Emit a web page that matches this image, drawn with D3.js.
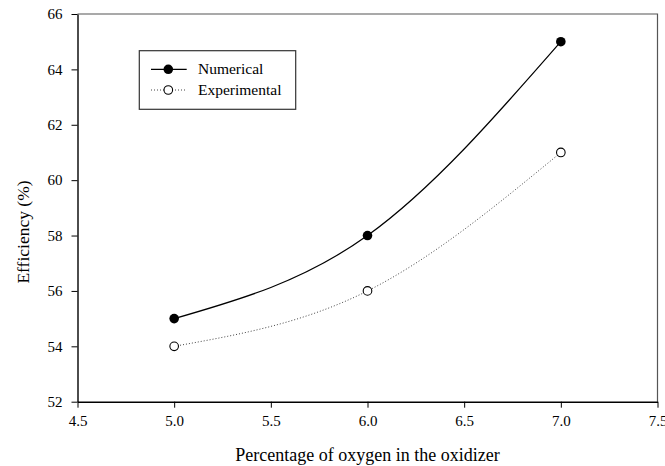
<!DOCTYPE html>
<html>
<head>
<meta charset="utf-8">
<script src="https://cdn.jsdelivr.net/npm/d3@7"></script>
<style>
  body { margin: 0; background: #fff; }
  svg text { fill: #000; }
</style>
</head>
<body>
<div id="chart"></div>
<script>
// data
var oxygen = [5.0, 6.0, 7.0];
var numerical = [55, 58, 65];
var experimental = [54, 56, 61];
var xTicks = [4.5, 5.0, 5.5, 6.0, 6.5, 7.0, 7.5];
var yTicks = [52, 54, 56, 58, 60, 62, 64, 66];

var serif = "'Liberation Serif', 'Times New Roman', Times, serif";

var margin = {top: 14, right: 7.5, bottom: 64.3, left: 77.5},
    W = 665, H = 466,
    width = W - margin.left - margin.right,
    height = H - margin.top - margin.bottom;

var svg = d3.select("#chart")
  .append("svg")
    .attr("width", W)
    .attr("height", H)
    .attr("font-family", serif)
  .append("g")
    .attr("transform", "translate(" + margin.left + "," + margin.top + ")");

var x = d3.scaleLinear().domain([4.5, 7.5]).range([0, width]);
var y = d3.scaleLinear().domain([52, 66]).range([height, 0]);

// frame (top/right grey)
svg.append("path")
  .attr("d", "M0,0H" + width + "V" + height)
  .attr("fill", "none")
  .attr("stroke", "#555")
  .attr("stroke-width", 1.2);

// x axis
var xAxis = svg.append("g")
  .attr("transform", "translate(0," + height + ")")
  .call(d3.axisBottom(x).tickValues(xTicks).tickFormat(d3.format(".1f")).tickSizeInner(6).tickSizeOuter(0).tickPadding(8));
xAxis.attr("font-family", serif).attr("font-size", 15);
xAxis.select(".domain").attr("stroke", "#000").attr("stroke-width", 1.4);

// y axis
var yAxis = svg.append("g")
  .call(d3.axisLeft(y).tickValues(yTicks).tickFormat(d3.format("d")).tickSizeInner(6).tickSizeOuter(0).tickPadding(9));
yAxis.attr("font-family", serif).attr("font-size", 15);
yAxis.select(".domain").attr("stroke", "#000").attr("stroke-width", 1.4);

// axis titles
svg.append("text")
  .attr("x", width / 2)
  .attr("y", height + 59.3)
  .attr("text-anchor", "middle")
  .attr("font-size", 18)
  .text("Percentage of oxygen in the oxidizer");

svg.append("text")
  .attr("transform", "translate(" + (-48.5) + "," + (218) + ") rotate(-90)")
  .attr("text-anchor", "middle")
  .attr("font-size", 17.5)
  .text("Efficiency (%)");

var line = d3.line()
  .x(function(d) { return x(d[0]); })
  .y(function(d) { return y(d[1]); })
  .curve(d3.curveNatural);

var numPts = oxygen.map(function(o, i) { return [o, numerical[i]]; });
var expPts = oxygen.map(function(o, i) { return [o, experimental[i]]; });

svg.append("path")
  .datum(expPts)
  .attr("d", line)
  .attr("fill", "none")
  .attr("stroke", "#444")
  .attr("stroke-width", 1)
  .attr("stroke-dasharray", "1,2");

svg.append("path")
  .datum(numPts)
  .attr("d", line)
  .attr("fill", "none")
  .attr("stroke", "#000")
  .attr("stroke-width", 1.2);

svg.selectAll(".dot-num")
  .data(numPts)
  .enter()
  .append("circle")
    .attr("class", "dot-num")
    .attr("cx", function(d) { return x(d[0]); })
    .attr("cy", function(d) { return y(d[1]); })
    .attr("r", 4.8)
    .attr("fill", "#000");

svg.selectAll(".dot-exp")
  .data(expPts)
  .enter()
  .append("circle")
    .attr("class", "dot-exp")
    .attr("cx", function(d) { return x(d[0]); })
    .attr("cy", function(d) { return y(d[1]); })
    .attr("r", 4.3)
    .attr("fill", "#fff")
    .attr("stroke", "#000")
    .attr("stroke-width", 1.1);

// legend
var lg = svg.append("g").attr("transform", "translate(" + (139.3 - margin.left) + "," + (50.7 - margin.top) + ")");
lg.append("rect")
  .attr("width", 156.4)
  .attr("height", 58.6)
  .attr("fill", "#fff")
  .attr("stroke", "#333")
  .attr("stroke-width", 1.2);

var items = [
  {name: "Numerical", fill: "#000", dash: null, w: 1.2, r: 4.8},
  {name: "Experimental", fill: "#fff", dash: "1,2", w: 1, r: 4.3}
];
items.forEach(function(it, i) {
  var yy = 18.6 + i * 20.7;
  lg.append("line")
    .attr("x1", 11.7).attr("x2", 47.4)
    .attr("y1", yy).attr("y2", yy)
    .attr("stroke", i ? "#444" : "#000")
    .attr("stroke-width", it.w)
    .attr("stroke-dasharray", it.dash);
  lg.append("circle")
    .attr("cx", 29).attr("cy", yy)
    .attr("r", it.r)
    .attr("fill", it.fill)
    .attr("stroke", "#000")
    .attr("stroke-width", i ? 1.1 : 0);
  lg.append("text")
    .attr("x", 58.7)
    .attr("y", yy + 5)
    .attr("font-size", 15.5)
    .text(it.name);
});
</script>
</body>
</html>
